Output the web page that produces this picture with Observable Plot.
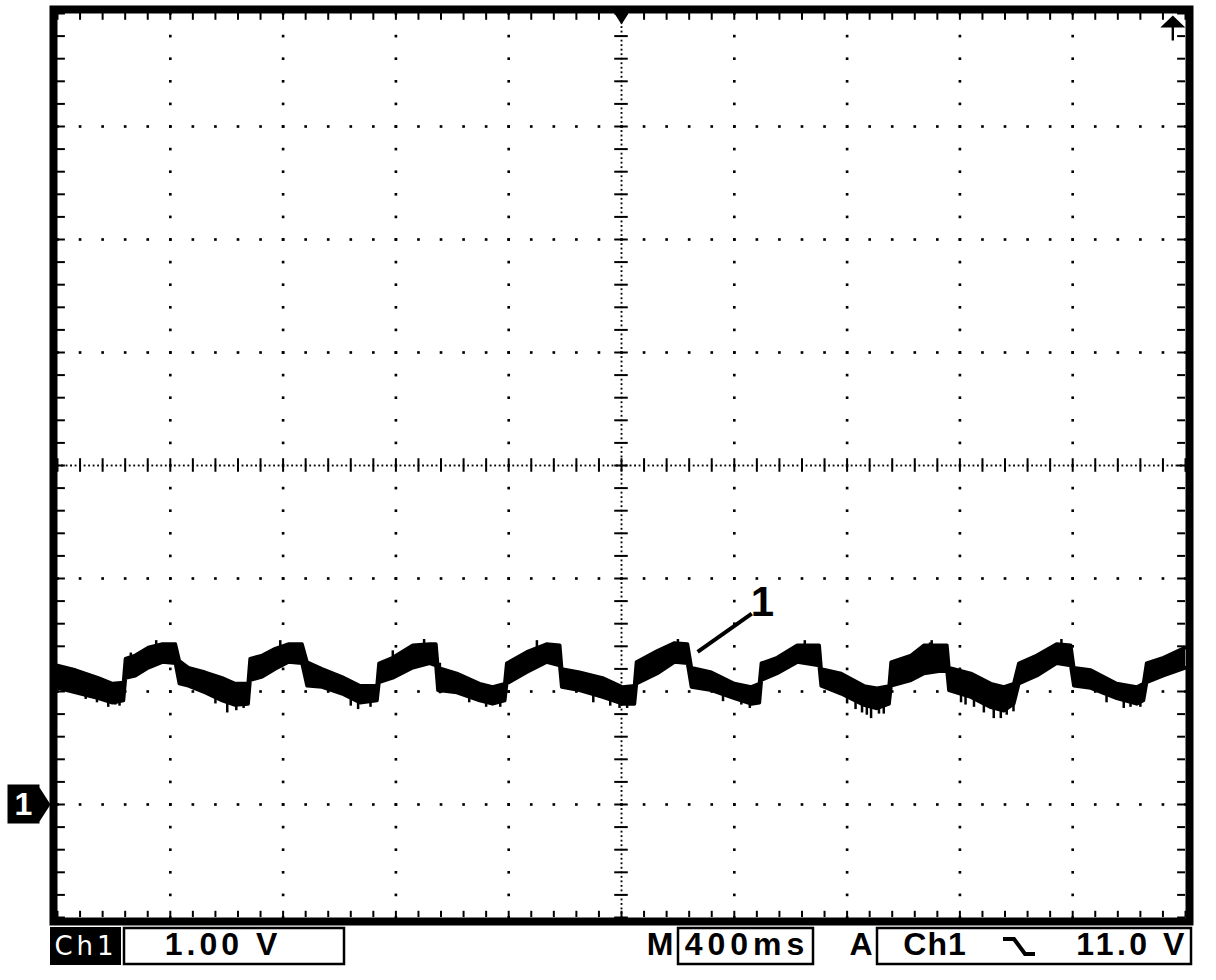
<!DOCTYPE html>
<html>
<head>
<meta charset="utf-8">
<script src="https://cdn.jsdelivr.net/npm/d3@7"></script>
<script src="https://cdn.jsdelivr.net/npm/@observablehq/plot@0.6"></script>
<style>
  body { margin: 0; background: #fff; }
  #wrap { position: relative; width: 1216px; height: 980px; overflow: hidden; background: #fff; }
  #chart { position: absolute; left: 0; top: 0; }
  #readout { position: absolute; left: 0; top: 926px; }
</style>
</head>
<body>
<div id="wrap">
  <div id="chart"></div>
  <div id="readout"></div>
</div>
<script>
// ---- Oscilloscope settings ----
const timeDomain = [-2000, 2000];   // ms, 400 ms/div x 10 div, trigger at 0
const voltDomain = [-1, 7];         // V, 1.00 V/div x 8 div, Ch1 ground at 0 V
const gridTimes = [-1600, -1200, -800, -400, 400, 800, 1200, 1600];
const gridVolts = [0, 1, 2, 4, 5, 6];
const centerTime = 0;
const centerVolt = 3;
const groundVolt = 0;
const triggerTime = 0;
const triggerLevelMarkTime = 1955;  // off-screen trigger level arrow (11.0 V)

// ---- Ch1 trace envelope (ms, upper V, lower V) ----
const traceTime = [-2000,-1936,-1855,-1805,-1766,-1759,-1724,-1678,-1628,-1582,-1568,-1536,-1476,-1416,-1370,-1324,-1317,-1274,-1228,-1182,-1133,-1115,-1062,-991,-927,-867,-860,-811,-740,-680,-658,-651,-584,-503,-457,-414,-407,-336,-266,-219,-212,-149,-67,4,46,53,127,188,234,248,319,400,460,489,496,552,623,701,708,779,860,906,949,956,1027,1073,1154,1161,1239,1310,1356,1391,1409,1473,1543,1593,1604,1664,1756,1827,1851,1862,1922,2000];
const traceHigh = [1.23,1.19,1.12,1.07,1.08,1.29,1.32,1.39,1.42,1.42,1.27,1.21,1.17,1.12,1.07,1.07,1.29,1.32,1.38,1.42,1.42,1.26,1.20,1.13,1.05,1.05,1.25,1.30,1.41,1.42,1.42,1.21,1.16,1.07,1.04,1.07,1.25,1.35,1.42,1.41,1.20,1.17,1.12,1.04,1.05,1.26,1.36,1.43,1.42,1.21,1.17,1.07,1.04,1.07,1.25,1.30,1.41,1.41,1.20,1.16,1.05,1.03,1.05,1.26,1.32,1.41,1.41,1.21,1.16,1.07,1.04,1.07,1.25,1.32,1.42,1.41,1.21,1.19,1.07,1.04,1.07,1.25,1.30,1.39];
const traceLow  = [1.03,0.99,0.94,0.90,0.92,1.12,1.14,1.21,1.26,1.25,1.07,1.05,0.99,0.92,0.88,0.89,1.10,1.13,1.20,1.26,1.25,1.05,1.04,0.98,0.90,0.92,1.08,1.12,1.21,1.25,1.23,1.01,0.99,0.92,0.89,0.92,1.07,1.17,1.26,1.23,1.04,1.01,0.95,0.89,0.89,1.07,1.16,1.26,1.25,1.04,1.01,0.94,0.89,0.90,1.10,1.16,1.26,1.23,1.05,0.98,0.88,0.85,0.89,1.05,1.10,1.16,1.19,1.01,0.95,0.86,0.83,0.89,1.07,1.14,1.25,1.23,1.05,1.03,0.94,0.89,0.92,1.08,1.14,1.21];

// ---- Noise spikes (ms, from V, to V) ----
const spikeTime = [-1900,-1860,-1820,-1795,-1780,-1740,-1650,-1440,-1398,-1366,-1340,-1210,-960,-934,-890,-811,-700,-644,-540,-480,-430,-300,-100,-40,-7,20,200,360,425,455,650,800,830,853,870,885,913,930,1094,1100,1204,1220,1250,1285,1320,1345,1366,1390,1560,1720,1781,1805,1840];
const spikeFrom = [0.98,0.95,0.95,0.95,0.94,1.28,1.38,0.95,0.94,0.92,0.92,1.38,0.94,0.94,0.93,1.20,1.40,1.25,0.96,0.93,0.92,1.38,0.97,0.93,0.93,0.91,1.40,0.97,0.98,0.92,1.39,0.96,0.92,0.92,0.88,0.90,0.90,0.88,1.30,1.39,1.00,0.97,0.97,0.93,0.90,0.88,0.88,0.90,1.40,0.96,0.93,0.92,0.92];
const spikeTo   = [0.93,0.90,0.86,0.88,0.87,1.34,1.45,0.89,0.81,0.83,0.85,1.45,0.87,0.84,0.86,1.36,1.46,0.98,0.90,0.86,0.86,1.45,0.90,0.87,0.85,0.85,1.46,0.91,0.88,0.85,1.45,0.89,0.84,0.81,0.79,0.76,0.80,0.80,1.43,1.45,0.90,0.88,0.86,0.81,0.76,0.76,0.79,0.82,1.46,0.90,0.85,0.86,0.86];

// ---- Annotation "1" ----
const labelText = ["1"];
const labelTime = [500];
const labelVolt = [1.67];
const leaderFrom = [462, 1.69];
const leaderTo = [270, 1.35];

// ---- Readout texts ----
const chLabel = "Ch1";
const voltsPerDiv = "1.00 V";
const timeLabel = "M";
const timePerDiv = "400ms";
const trigLabel = "A";
const trigSource = "Ch1";
const trigLevel = "11.0 V";

// derived tables
const trace = traceTime.map((t, i) => ({t, hi: traceHigh[i], lo: traceLow[i]}));
const spikes = spikeTime.map((t, i) => ({t, v1: spikeFrom[i], v2: spikeTo[i]}));
const minorT = d3.range(0, 51).map(i => timeDomain[0] + i * 80);
const minorV = d3.range(0, 41).map(i => +(voltDomain[0] + i * 0.2).toFixed(2));
const fineT = d3.range(0, 251).map(i => timeDomain[0] + i * 16);
const fineV = d3.range(0, 201).map(i => +(voltDomain[0] + i * 0.04).toFixed(3));
const gridDots = [
  ...d3.cross(gridTimes, minorV).map(([t, v]) => ({t, v})),
  ...d3.cross(minorT, gridVolts).map(([t, v]) => ({t, v}))
];
const centerDots = [
  ...fineV.map(v => ({t: centerTime, v})),
  ...fineT.map(t => ({t, v: centerVolt}))
];

// custom symbols
const trigSymbol = {draw(ctx) { ctx.moveTo(-7, 0); ctx.lineTo(7, 0); ctx.lineTo(0, 11); ctx.closePath(); }};
const levelSymbol = {draw(ctx) {
  ctx.moveTo(0, 0); ctx.lineTo(12.5, 12); ctx.lineTo(-12.5, 12); ctx.closePath();
  ctx.rect(-1.2, 12, 2.4, 13);
}};
const groundSymbol = {draw(ctx) {
  ctx.moveTo(-50, -20); ctx.lineTo(-18, -20); ctx.lineTo(-18, -17); ctx.lineTo(-7, 0);
  ctx.lineTo(-18, 17); ctx.lineTo(-18, 19); ctx.lineTo(-50, 19); ctx.closePath();
}};

const plot = Plot.plot({
  width: 1216,
  height: 926,
  marginLeft: 57,
  marginRight: 31,
  marginTop: 13,
  marginBottom: 9,
  x: {domain: timeDomain, axis: null},
  y: {domain: voltDomain, axis: null},
  style: {background: "white", overflow: "visible"},
  marks: [
    // dotted graticule
    Plot.dot(gridDots, {x: "t", y: "v", symbol: "square", r: 1.5, fill: "black"}),
    Plot.dot(centerDots, {x: "t", y: "v", symbol: "square", r: 1.05, fill: "black"}),
    // center axis minor ticks
    Plot.ruleY(minorV, {y: d => d, x1: centerTime - 24, x2: centerTime + 24, stroke: "black", strokeWidth: 2}),
    Plot.ruleX(minorT, {x: d => d, y1: centerVolt - 0.06, y2: centerVolt + 0.06, stroke: "black", strokeWidth: 2}),
    // edge minor ticks
    Plot.ruleY(minorV, {y: d => d, x1: timeDomain[0], x2: timeDomain[0] + 28, stroke: "black", strokeWidth: 2}),
    Plot.ruleY(minorV, {y: d => d, x1: timeDomain[1] - 28, x2: timeDomain[1], stroke: "black", strokeWidth: 2}),
    Plot.ruleX(minorT, {x: d => d, y1: voltDomain[1], y2: voltDomain[1] - 0.06, stroke: "black", strokeWidth: 2}),
    Plot.ruleX(minorT, {x: d => d, y1: voltDomain[0], y2: voltDomain[0] + 0.055, stroke: "black", strokeWidth: 2}),
    // trace
    Plot.areaY(trace, {x: "t", y1: "lo", y2: "hi", fill: "black"}),
    Plot.line(trace, {x: "t", y: "hi", stroke: "black", strokeWidth: 3.5}),
    Plot.line(trace, {x: "t", y: "lo", stroke: "black", strokeWidth: 3.5}),
    Plot.ruleX(spikes, {x: "t", y1: "v1", y2: "v2", stroke: "black", strokeWidth: 2.5}),
    // annotation
    Plot.link([{x1: leaderFrom[0], y1: leaderFrom[1], x2: leaderTo[0], y2: leaderTo[1]}],
      {x1: "x1", y1: "y1", x2: "x2", y2: "y2", stroke: "black", strokeWidth: 4}),
    Plot.text(labelText, {x: (d, i) => labelTime[i], y: (d, i) => labelVolt[i], text: d => d,
      fontSize: 42, fontWeight: "bold", fontFamily: "Liberation Sans", lineAnchor: "bottom", fill: "black"}),
    // markers
    Plot.dot([triggerTime], {x: d => d, y: voltDomain[1], symbol: trigSymbol, fill: "black", stroke: "none"}),
    Plot.dot([triggerLevelMarkTime], {x: d => d, y: voltDomain[1], dy: 2, symbol: levelSymbol, fill: "black", stroke: "none"}),
    Plot.dot([groundVolt], {x: timeDomain[0], y: d => d, symbol: groundSymbol, fill: "black", stroke: "none"}),
    Plot.text(["1"], {x: timeDomain[0], y: groundVolt, dx: -34, text: d => d, fill: "white",
      fontSize: 32, fontWeight: "bold", fontFamily: "Liberation Sans", lineAnchor: "middle"}),
    // frame
    Plot.frame({stroke: "black", strokeWidth: 8, inset: -4})
  ]
});
document.getElementById("chart").appendChild(plot);

// ---- readout bar ----
const ro = d3.create("svg").attr("width", 1216).attr("height", 54)
  .style("font-family", "'Liberation Sans', Arial, sans-serif");
ro.append("rect").attr("x", 50).attr("y", 1).attr("width", 71).attr("height", 38).attr("fill", "black");
ro.append("text").attr("x", 86).attr("y", 29).attr("text-anchor", "middle").attr("fill", "white")
  .attr("font-family", "'DejaVu Sans'").attr("font-size", 26).attr("letter-spacing", 4).text(chLabel);
const boxes = [[124, 220], [678, 135], [877, 314]];
boxes.forEach(([x, w]) => ro.append("rect").attr("x", x).attr("y", 2).attr("width", w).attr("height", 36)
  .attr("fill", "none").attr("stroke", "black").attr("stroke-width", 2.5));
const texts = [
  [223, voltsPerDiv, 4], [660, timeLabel, 0], [747, timePerDiv, 5], [861, trigLabel, 0],
  [935, trigSource, 1], [1132, trigLevel, 3.5]
];
texts.forEach(([x, s, ls]) => ro.append("text").attr("x", x).attr("y", 29).attr("text-anchor", "middle")
  .attr("font-size", 32).attr("font-weight", "bold").attr("letter-spacing", ls).attr("fill", "black").text(s));
ro.append("path").attr("d", "M1003,13 H1014 L1025,28 H1035").attr("fill", "none")
  .attr("stroke", "black").attr("stroke-width", 4);
document.getElementById("readout").appendChild(ro.node());
</script>
</body>
</html>
